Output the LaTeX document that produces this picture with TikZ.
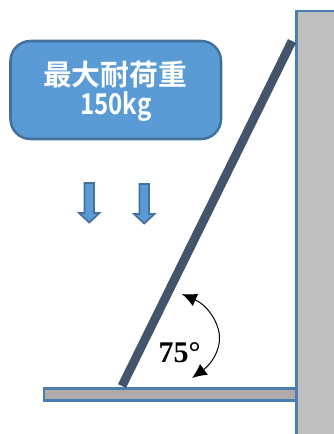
\documentclass[tikz,border=0pt]{standalone}
\usepackage{graphicx}
\usepackage{fontspec}
\newfontfamily\cjk{Noto Sans CJK JP}[BoldFont={Noto Sans CJK JP Bold}]
\newfontfamily\anglefont{Liberation Serif}
\usetikzlibrary{arrows.meta}
\definecolor{boxblue}{HTML}{5B9BD5}
\definecolor{edgeblue}{HTML}{41719C}
\definecolor{wallblue}{HTML}{4A7EAF}
\definecolor{wallgrey}{HTML}{BFBFBF}
\definecolor{shelfgrey}{HTML}{AFABAB}
\definecolor{strut}{HTML}{44546A}
\tikzset{
  px/.style={x=0.75pt,y=-0.75pt},
  loadbox/.style={draw=edgeblue,fill=boxblue,line width=1.9pt,rounded corners=15pt},
  solid part/.style={draw=wallblue,fill=#1,line width=1.9pt},
  downarrow/.style={draw=edgeblue,fill=boxblue,line width=1.3pt,line join=miter},
}
\begin{document}
\begin{tikzpicture}[px]
\useasboundingbox (0,0) rectangle (333,434);
\fill[white] (0,0) rectangle (333,434);
% wall and shelf
\path[solid part=wallgrey] (340,440) -- (296.5,440) -- (296.5,11) -- (340,11);
\path[solid part=shelfgrey] (44,388.5) rectangle (296.5,400.5);
% strut
\coordinate (strutA) at (122,386);
\coordinate (strutB) at (292,41);
\draw[strut,line width=6.6pt] (strutA) -- (strutB);
% load box
\path[loadbox] (10.5,41) rectangle (221,139);
\node[text=white,font=\cjk\bfseries,inner sep=0pt,align=center] (title) at (115,75) {\fontsize{21.6pt}{24pt}\selectfont 最大耐荷重};
\node[text=white,font=\cjk\bfseries,inner sep=0pt] (load) at (116,107) {\scalebox{0.84}[1]{\fontsize{21.5pt}{24pt}\selectfont 150kg}};
% block arrows
\path[downarrow] (84.5,183) -- (94,183) -- (94,213) -- (99.5,213) -- (89.2,222.5) -- (79,213) -- (84.5,213) -- cycle;
\path[downarrow] (139.5,184) -- (149,184) -- (149,214) -- (154.5,214) -- (144.2,223.5) -- (134,214) -- (139.5,214) -- cycle;
% angle
\coordinate (arcA) at (182,294);
\coordinate (arcB) at (192,378);
\draw[black,line width=0.75pt,{Latex[length=11pt,width=10pt]}-{Latex[length=11pt,width=10pt]}] (arcA) .. controls (207,305) and (219,322) .. (219.5,337) .. controls (220,352) and (210,365) .. (192,378);
\node[font=\anglefont\bfseries,inner sep=0pt] (angle) at (179.5,353) {\fontsize{22.5pt}{26pt}\selectfont 75°};
\end{tikzpicture}
\end{document}
